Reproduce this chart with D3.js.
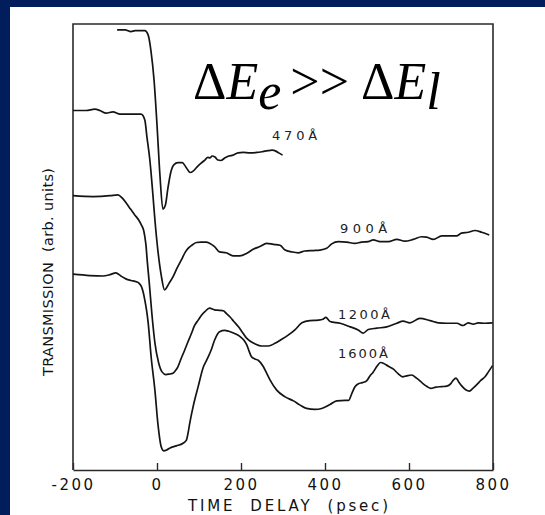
<!DOCTYPE html>
<html><head><meta charset="utf-8">
<script src="https://cdn.jsdelivr.net/npm/d3@7"></script>
<style>html,body{margin:0;padding:0;background:#021d5c}svg{display:block}</style>
</head><body>
<svg id="c" width="545" height="515"></svg>
<script>
// ---- data (time delay in psec, transmission in arb. units) ----
const xTicks = [-200, 0, 200, 400, 600, 800];

const t470 = [-95,-76,-62,-52,-29,-21,-14,-7,0,7,14,20,26,33,40,50,60,69,79,86,95,105,114,121,126,131,138,145,152,162,171,181,193,205,221,238,252,264,274,283,290,299];
const v470 = [98.7,98.7,98.3,98.5,98.5,97.5,93.7,87.4,77.4,66.1,58.5,59.4,63.2,66.8,68.4,68.9,68.9,67.9,66.7,67.0,67.9,68.8,69.5,70.1,70.0,70.4,70.2,69.5,69.4,70.0,70.4,70.6,71.1,71.2,71.1,71.2,71.4,71.6,71.7,71.5,71.1,70.6];

const t900 = [-200,-169,-148,-136,-121,-105,-88,-64,-38,-29,-24,-17,-10,-5,2,10,18,29,38,48,58,67,74,83,94,105,117,126,137,149,165,181,197,214,229,245,261,277,293,305,321,336,352,372,388,404,416,432,452,471,487,503,515,531,551,571,590,610,630,642,658,678,698,713,725,741,757,773,791];
const v900 = [80.6,80.6,80.9,80.6,80.0,80.3,79.8,79.8,79.8,78.5,74.7,69.5,62.0,56.1,49.3,43.7,40.4,41.9,43.3,45.3,47.1,48.8,49.7,50.4,51.0,51.1,51.1,50.8,50.1,48.9,48.7,48.0,48.0,48.6,49.5,50.1,50.8,50.6,50.4,49.3,48.9,48.7,49.1,49.2,49.3,49.7,50.7,51.2,51.1,50.8,51.1,51.2,51.6,51.2,51.2,51.7,51.3,51.7,52.3,52.2,51.7,52.5,52.5,52.5,53.1,53.3,53.7,53.3,52.7];

const t1200 = [-200,-152,-112,-93,-83,-73,-63,-53,-44,-37,-32,-29,-26,-24,-18,-12,-5,4,12,21,29,38,45,50,58,66,74,82,89,98,105,114,125,137,148,158,165,174,183,194,204,214,223,233,249,265,281,297,313,329,345,364,384,395,402,412,436,460,479,491,503,523,547,571,586,602,626,650,670,690,714,729,741,753,765,781,799];
const v1200 = [61.5,61.3,61.5,61.7,61.0,59.8,58.5,57.2,56.1,54.9,53.8,52.3,50.2,47.8,41.5,34.8,28.5,24.0,22.0,21.4,21.5,21.7,22.4,23.2,25.1,26.9,28.8,30.6,32.3,33.6,34.6,35.5,36.3,35.9,35.8,35.7,35.1,34.3,33.3,32.1,30.8,29.5,28.8,28.3,27.8,27.8,28.4,29.3,30.3,31.5,33.0,33.5,33.6,33.8,34.2,33.3,32.9,32.1,31.4,30.7,31.5,31.8,32.1,32.9,33.4,33.0,34.0,33.5,33.0,32.9,32.9,32.4,33.0,32.7,33.0,32.9,33.0];

const t1600 = [-200,-160,-129,-112,-98,-86,-73,-62,-49,-42,-37,-33,-29,-25,-21,-14,-5,2,10,16,23,30,46,62,70,74,78,86,98,110,118,129,137,149,161,171,182,198,207,214,219,225,233,241,253,261,269,285,305,325,340,356,376,392,412,428,448,456,464,471,479,489,499,507,515,524,532,540,550,563,574,585,594,606,618,626,634,643,652,664,678,690,699,705,712,718,726,735,744,752,762,771,781,789,799];
const v1600 = [43.9,43.6,43.5,43.8,44.2,43.5,42.8,42.5,42.2,41.8,41.1,39.9,38.1,35.9,33.0,25.4,17.9,10.5,5.2,4.3,4.5,4.9,5.4,6.0,6.7,8.3,10.5,14.2,18.7,23.0,24.6,26.9,29.1,31.0,31.3,31.1,30.7,29.9,29.1,28.0,26.7,25.4,24.9,24.6,23.2,21.7,20.2,17.9,16.4,15.5,14.6,13.8,13.6,13.8,14.7,15.5,15.6,15.6,17.2,18.6,19.3,19.6,20.0,21.1,22.0,23.3,24.1,23.9,23.3,22.6,21.6,20.9,21.1,21.3,20.6,20.0,19.3,18.7,18.3,18.6,18.7,18.8,19.3,20.1,20.6,19.8,18.8,18.0,17.7,18.3,19.2,20.1,20.9,22.0,23.4];

const seriesNames = ["470Å", "900Å", "1200Å", "1600Å"];
const labelT = [274, 436, 431, 431];
const labelV = [74.0, 53.1, 33.9, 25.1];
const labelW = [45, 47, 52, 50];

// ---- drawing ----
const svg = d3.select("#c");
svg.append("rect").attr("x", 0).attr("y", 0).attr("width", 545).attr("height", 515).attr("fill", "#021d5c");
svg.append("rect").attr("x", 10).attr("y", 7).attr("width", 535).attr("height", 508).attr("fill", "#ffffff");

const x = d3.scaleLinear().domain([-200, 800]).range([73, 493]);
const y = d3.scaleLinear().domain([0, 100]).range([470, 24]);

const ink = "#141414";
const g = svg.append("g");

// frame
g.append("path")
  .attr("d", `M${x(-200)},${y(0)}V${y(100)}H${x(800)}V${y(0)}`)
  .attr("fill", "none").attr("stroke", "#2a2a2a").attr("stroke-width", 1.6);

const axis = d3.axisBottom(x).tickValues(xTicks).tickSizeInner(-7).tickSizeOuter(0).tickPadding(9)
  .tickFormat(d => d < 0 ? "-" + Math.abs(d) : String(d));
const ax = g.append("g").attr("transform", `translate(0,${y(0)})`).call(axis);
ax.select(".domain").attr("stroke", "#2a2a2a").attr("stroke-width", 1.6);
ax.selectAll(".tick line").attr("stroke", "#2a2a2a").attr("stroke-width", 1.4);
ax.selectAll(".tick text").attr("fill", "#111").attr("font-family", "DejaVu Sans, sans-serif")
  .attr("font-size", 15).attr("letter-spacing", "2.5px");

// curves
const line = d3.line().x(d => x(d[0])).y(d => y(d[1])).curve(d3.curveMonotoneX);
const series = [[t470, v470], [t900, v900], [t1200, v1200], [t1600, v1600]];
series.forEach(([ts, vs]) => {
  g.append("path").datum(ts.map((t, i) => [t, vs[i]]))
    .attr("d", line).attr("fill", "none").attr("stroke", ink)
    .attr("stroke-width", 1.7).attr("stroke-linejoin", "round");
});

// curve labels
seriesNames.forEach((s, i) => {
  g.append("text").attr("x", x(labelT[i])).attr("y", y(labelV[i]))
    .attr("font-family", "DejaVu Sans, sans-serif").attr("font-size", 13)
    .attr("textLength", labelW[i]).attr("lengthAdjust", "spacing")
    .attr("fill", "#222").text(s);
});

// axis titles
svg.append("text").attr("x", 288).attr("y", 511).attr("text-anchor", "middle")
  .attr("font-family", "DejaVu Sans, sans-serif").attr("font-size", 15)
  .attr("textLength", 200).attr("lengthAdjust", "spacing")
  .attr("fill", "#111").style("white-space", "pre").text("TIME  DELAY  (psec)");

svg.append("text").attr("transform", "translate(53,272) rotate(-90)").attr("text-anchor", "middle")
  .attr("font-family", "DejaVu Sans, sans-serif").attr("font-size", 14.5)
  .attr("textLength", 208).attr("lengthAdjust", "spacing")
  .attr("fill", "#111").style("white-space", "pre").text("TRANSMISSION  (arb. units)");

// big annotation
const ann = svg.append("text").attr("x", 193).attr("y", 99)
  .attr("font-family", "Liberation Serif, Times New Roman, serif").attr("font-size", 52).attr("fill", "#000");
ann.append("tspan").text("Δ");
ann.append("tspan").attr("font-style", "italic").text("E");
ann.append("tspan").attr("font-style", "italic").attr("dy", 10).text("e");
ann.append("tspan").attr("dy", -10).attr("dx", 9).text(">>");
ann.append("tspan").attr("dx", 12).text("Δ");
ann.append("tspan").attr("font-style", "italic").text("E");
ann.append("tspan").attr("font-style", "italic").attr("dy", 10).text("l");
</script>
</body></html>
